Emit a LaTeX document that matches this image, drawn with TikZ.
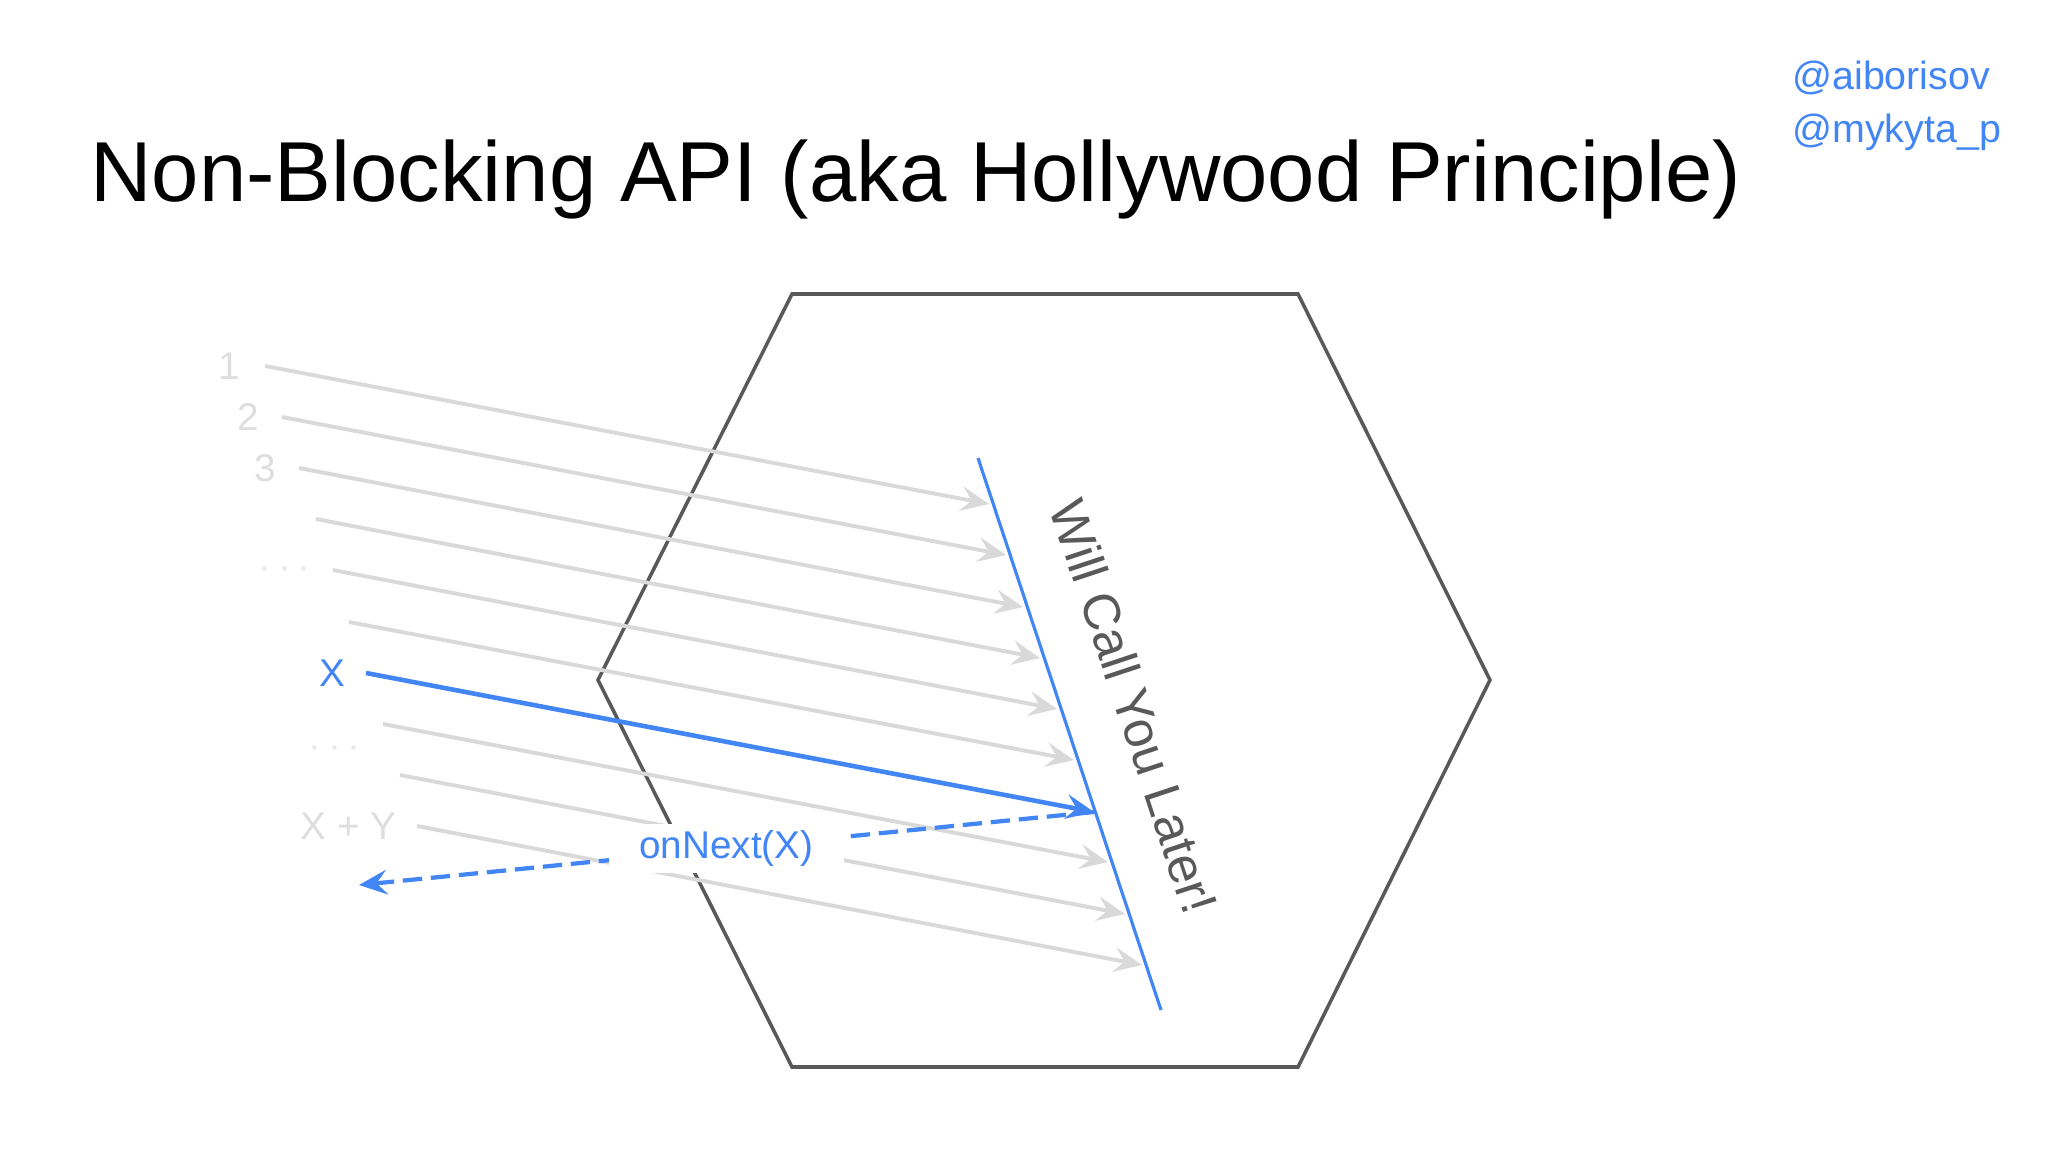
\documentclass[tikz,border=0pt]{standalone}
\usepackage{fontspec}
\setmainfont{Liberation Sans}
\usetikzlibrary{arrows.meta,positioning}
\definecolor{gblue}{RGB}{66,133,244}
\definecolor{hexgray}{RGB}{89,89,89}
\definecolor{callgray}{RGB}{217,217,217}
\definecolor{lblgray}{RGB}{222,222,222}
\definecolor{dotgray}{RGB}{232,232,232}
\begin{document}
\begin{tikzpicture}[x=0.01cm, y=-0.01cm,
  hexline/.style={draw=hexgray, line width=1pt, line join=miter},
  call/.style={draw=callgray, line width=1.1pt, -{Stealth[length=8pt,width=7pt,inset=3pt]}},
  lbl/.style={text=lblgray, font=\fontsize{11}{13}\selectfont, inner sep=0pt},
  dots/.style={text=dotgray, font=\fontsize{11}{13}\selectfont, inner sep=0pt},
  xlbl/.style={text=gblue, font=\fontsize{11}{13}\selectfont, inner sep=0pt},
  xcall/.style={draw=gblue, line width=1.3pt, -{Stealth[length=8pt,width=7pt,inset=3pt]}},
  backcall/.style={draw=gblue, line width=1.2pt, dash pattern=on 5.5pt off 2.5pt, -{Stealth[length=8pt,width=7pt,inset=3pt]}},
  later/.style={draw=gblue, line width=0.9pt},
  onnext/.style={fill=white, text=gblue, font=\fontsize{11}{13}\selectfont, inner xsep=0.3cm, inner ysep=0.06cm}]
\useasboundingbox[fill=white] (0,0) rectangle (2048,1152);
% title and handles
\node[anchor=base west, font=\fontsize{24.2}{28}\selectfont] (title) at (78,202) {Non-Blocking API (aka Hollywood Principle)};
\node[anchor=base west, text=gblue, font=\fontsize{11.2}{13}\selectfont] (hone) at (1780,90) {@aiborisov};
\node[anchor=base west, text=gblue, font=\fontsize{11.2}{13}\selectfont] (htwo) at (1780,143) {@mykyta\_p};
% the component
\draw[hexline] (792,294) -- (1298,294) -- (1490,680) -- (1298,1067) -- (792,1067) -- (598,680) -- cycle;
% calls
\coordinate (s1) at (265,366);  \coordinate (e1) at (989,504);
\coordinate (s2) at (282,417);  \coordinate (e2) at (1006,555);
\coordinate (s3) at (299,468);  \coordinate (e3) at (1023,607);
\coordinate (s4) at (316,519);  \coordinate (e4) at (1040,658);
\coordinate (s5) at (333,570);  \coordinate (e5) at (1057,709);
\coordinate (s6) at (349,622);  \coordinate (e6) at (1074,760);
\coordinate (s7) at (366,673);  \coordinate (e7) at (1094,812);
\coordinate (s8) at (383,724);  \coordinate (e8) at (1108,862);
\coordinate (s9) at (400,775);  \coordinate (e9) at (1125,914);
\coordinate (s10) at (417,826); \coordinate (e10) at (1142,965);
\node[lbl, left=0.24cm of s1] (lone) {1};
\node[lbl, left=0.22cm of s2] (ltwo) {2};
\node[lbl, left=0.22cm of s3] (lthree) {3};
\node[dots, left=0.22cm of s5, yshift=-0.03cm] (ldots) {·\,·\,·};
\node[xlbl, left=0.2cm of s7] (lx) {X};
\node[dots, left=0.22cm of s8, yshift=-0.28cm] (lmore) {·\,·\,·};
\node[lbl, left=0.2cm of s10] (lxy) {X + Y};
\draw[call] (s1) -- (e1);
\draw[call] (s2) -- (e2);
\draw[call] (s3) -- (e3);
\draw[call] (s4) -- (e4);
\draw[call] (s5) -- (e5);
\draw[call] (s6) -- (e6);
\draw[call] (s8) -- (e8);
\draw[call] (s9) -- (e9);
\draw[call] (s10) -- (e10);
% will call you later
\coordinate (wt) at (978,458);
\coordinate (wb) at (1161,1010);
\draw[later] (wt) -- (wb) node[pos=0.49, sloped, above=0.38cm, text=hexgray, font=\fontsize{14.6}{16}\selectfont] (wcyl) {Will Call You Later!};
\draw[xcall] (s7) -- (e7);
%\draw[xcall] (lx) -- (e7);
\coordinate (bk) at (359,885);
\draw[backcall] (e7) -- (bk) node[midway, onnext] (onx) {onNext(X)};
\end{tikzpicture}
\end{document}
